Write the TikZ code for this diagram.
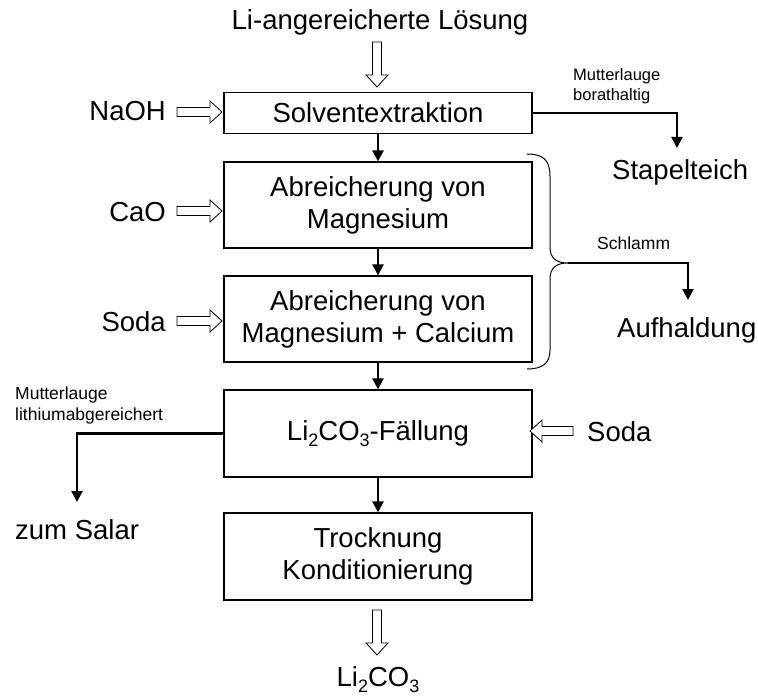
\documentclass[tikz,border=0pt]{standalone}
\usepackage{fontspec}
\setmainfont{Liberation Sans}
\usetikzlibrary{arrows.meta}
\newcommand\bigf{\fontsize{27.5}{32}\selectfont}
\newcommand\smallf{\fontsize{17.5}{21}\selectfont}
\newcommand\smallerf{\fontsize{16.5}{20}\selectfont}
\newcommand\lowsub[1]{\raisebox{-0.24em}{\fontsize{18}{18}\selectfont #1}}
% hollow block arrow: start x, start y, angle, length
\newcommand\hollowarrow[4]{%
  \draw[hollow, shift={(#1,#2)}, rotate=#3]
    (0,-4.5) -- ({#4-12},-4.5) -- ({#4-12},-11) -- (#4,0) --
    ({#4-12},11) -- ({#4-12},4.5) -- (0,4.5) -- cycle;}
\begin{document}
\begin{tikzpicture}[x=1pt,y=-1pt,
  box/.style={draw, line width=1.2pt, minimum width=308pt, align=center,
    font=\bigf, inner sep=0pt},
  big/.style={font=\bigf, inner sep=0pt},
  small/.style={font=\smallf, inner sep=0pt, align=left},
  flow/.style={line width=2.4pt, -{Triangle[width=11pt,length=11pt]}},
  hollow/.style={line width=0.8pt, fill=white},
  brace/.style={line width=1pt}]
\useasboundingbox (0,0) rectangle (758,698);

% process boxes
\node[box, minimum height=41pt] (b1) at (378,113) {Solventextraktion};
\node[box, minimum height=86pt] (b2) at (378,205) {Abreicherung von\\Magnesium};
\node[box, minimum height=86pt] (b3) at (378,319) {Abreicherung von\\Magnesium + Calcium};
\node[box, minimum height=87pt] (b4) at (378,433.5) {Li\lowsub{2}CO\lowsub{3}-Fällung};
\node[box, minimum height=87pt] (b5) at (378,556.5) {Trocknung\\Konditionierung};

% labels
\node[big, anchor=base] (title) at (380,30) {Li-angereicherte Lösung};
\node[big, anchor=base east] (naoh) at (166,121) {NaOH};
\node[big, anchor=base east] (cao) at (166,221) {CaO};
\node[big, anchor=base east] (soda1) at (166,331) {Soda};
\node[big, anchor=base west] (soda2) at (587,441) {Soda};
\node[big, anchor=base] (prod) at (378,686) {Li\lowsub{2}CO\lowsub{3}};
\node[big, anchor=base west] (stapel) at (612,179) {Stapelteich};
\node[big, anchor=base west] (aufh) at (617,337) {Aufhaldung};
\node[big, anchor=base west] (salar) at (15,539) {zum Salar};
\node[small, font=\smallerf, anchor=base west] (ml1) at (573,101) {Mutterlauge\\borathaltig};
\node[small, anchor=base west] (schl) at (597,249) {Schlamm};
\node[small, anchor=base west] (ml2) at (15,420) {Mutterlauge\\lithiumabgereichert};

% hollow input arrows
\hollowarrow{377}{42}{-90}{45}
\hollowarrow{177}{112}{0}{45}
\hollowarrow{177}{211}{0}{45}
\hollowarrow{177}{321}{0}{45}
\hollowarrow{573}{431}{180}{43}
\hollowarrow{377}{610}{-90}{45}

% main flow
\draw[flow] (b1.south) -- (b2.north);
\draw[flow] (b2.south) -- (b3.north);
\draw[flow] (b3.south) -- (b4.north);
\draw[flow] (b4.south) -- (b5.north);

% side streams
\coordinate (c1) at (677,148);
\draw[flow] (b1.east) -| (c1);

\coordinate (btip) at (568,263);
\draw[brace] (527,154) .. controls (543,154) and (550,160) .. (550,176)
  -- (550,247) .. controls (550,258) and (556,263) .. (btip)
  .. controls (556,263) and (550,268) .. (550,279)
  -- (550,350) .. controls (550,363) and (543,369) .. (527,369);
\coordinate (c2) at (688,300);
\draw[flow] (btip) -| (c2);

\coordinate (c3) at (77,502);
\draw[flow] (b4.west) -| (c3);
\end{tikzpicture}
\end{document}
